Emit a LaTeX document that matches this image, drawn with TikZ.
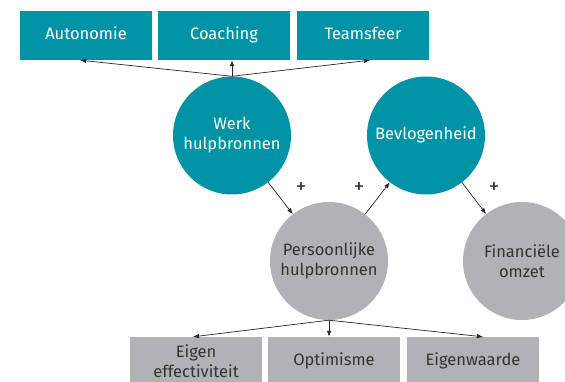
\documentclass[tikz,border=0pt]{standalone}
\usepackage{fontspec}
\setmainfont{Fira Sans}
\usepackage{tikz}
\usetikzlibrary{arrows.meta}
\usepackage{xcolor}
\definecolor{WerkTeal}{HTML}{0093A6}
\definecolor{PersGray}{HTML}{B1B2B6}
\definecolor{LabelDark}{HTML}{333333}

\begin{document}
\begin{tikzpicture}[x=1pt,y=-1pt,
   font=\fontsize{16.5}{20}\selectfont,
   blob/.style={circle,minimum size=118pt,inner sep=0pt,align=center},
   tile/.style={rectangle,minimum width=132pt,minimum height=49pt,inner sep=0pt,align=center},
   oneline/.style={text height=12pt,text depth=4pt},
   work/.style={fill=WerkTeal,text=white},
   self/.style={fill=PersGray,text=LabelDark},
   link/.style={-{Latex[length=6pt,width=4.5pt]},line width=0.7pt,draw=black!85},
   sign/.style={font=\fontsize{21}{21}\selectfont,text=LabelDark}]
   \useasboundingbox (0,0) rectangle (565,382);
   \node[tile,work,oneline] (auto) at (86,35.5) {Autonomie};
   \node[tile,work,oneline] (coach) at (224,35.5) {Coaching};
   \node[tile,work,oneline] (team) at (363,35.5) {Teamsfeer};
   \node[blob,work] (werk) at (232,135.5) {Werk\\hulpbronnen};
   \node[blob,work,oneline] (bev) at (426,135.5) {Bevlogenheid};
   \node[blob,self] (pers) at (329,261) {Persoonlijke\\hulpbronnen};
   \node[blob,self] (fin) at (522,261) {Financiële\\omzet};
   \node[tile,self] (eff) at (196,361.5) {Eigen\\effectiviteit};
   \node[tile,self,oneline] (opt) at (334,361.5) {Optimisme};
   \node[tile,self,oneline] (eigw) at (473,361.5) {Eigenwaarde};
   \draw[link] (werk.north) -- ([xshift=-6pt]auto.south);
   \draw[link] (werk.north) -- (werk.north |- coach.south);
   \draw[link] (werk.north) -- ([xshift=7pt]team.south);
   \draw[link] (werk) -- (pers);
   \draw[link] (pers) -- (bev);
   \draw[link] (bev) -- (fin);
   \draw[link] (pers.south) -- ([xshift=-3pt]eff.north);
   \draw[link] (pers.south) -- (pers.south |- opt.north);
   \draw[link] (pers.south) -- ([xshift=10pt]eigw.north);
   \node[sign] (plus1) at (301,188) {+};
   \node[sign] (plus2) at (359,188) {+};
   \node[sign] (plus3) at (494,188) {+};
\end{tikzpicture}
\end{document}
